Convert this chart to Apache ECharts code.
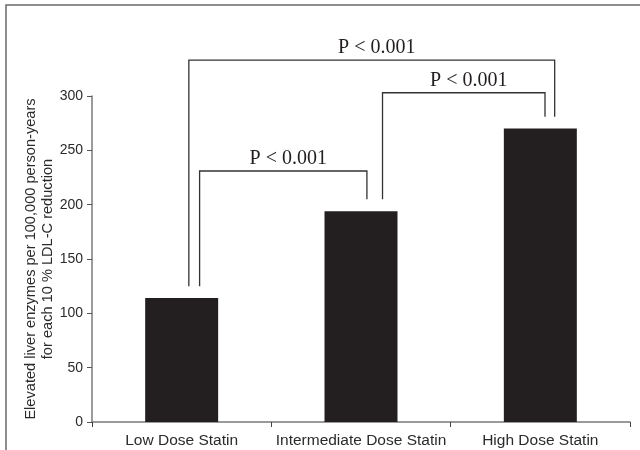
<!DOCTYPE html>
<html>
<head>
<meta charset="utf-8">
<script src="https://cdn.jsdelivr.net/npm/echarts@6/dist/echarts.min.js"></script>
<style>
html,body{margin:0;padding:0;background:#fff;}
#chart{width:640px;height:450px;}
</style>
</head>
<body>
<div id="chart"></div>
<script>
// ---- data ----
var categories = ['Low Dose Statin', 'Intermediate Dose Statin', 'High Dose Statin'];
var values = [114, 194, 270];
var yTicks = [0, 50, 100, 150, 200, 250, 300];
// significance brackets: from category, to category, bracket level (y units), label
var bracketFrom = [0, 1, 0];
var bracketTo = [2, 2, 1];
var bracketLevel = [333, 303, 231];
var bracketLabel = ['P < 0.001', 'P < 0.001', 'P < 0.001'];

// ---- layout of bracket legs (fraction of band width from category centre) ----
var legOffsetFrom = [0.04, 0.12, 0.10];
var legOffsetTo = [0.08, 0.026, 0.033];
var legGap = 11;

var bracketData = bracketFrom.map(function (f, i) {
  return [f, bracketTo[i], bracketLevel[i], values[f] + legGap, values[bracketTo[i]] + legGap, i];
});

var chart = echarts.init(document.getElementById('chart'), null, {renderer: 'canvas'});
var axisColor = '#7a7a7a';
var textColor = '#2b2b2b';

chart.setOption({
  animation: false,
  backgroundColor: '#fff',
  grid: {left: 92, right: 10, top: 96, bottom: 28, containLabel: false},
  graphic: [{
    type: 'rect',
    shape: {x: 6, y: 5, width: 700, height: 500},
    style: {fill: 'none', stroke: '#6a6a6a', lineWidth: 1.5},
    silent: true,
    z: 0
  }],
  xAxis: {
    type: 'category',
    data: categories,
    axisLine: {lineStyle: {color: axisColor, width: 1.5}},
    axisTick: {show: true, length: 5, lineStyle: {color: '#444'}, alignWithLabel: false},
    axisLabel: {interval: 0, color: textColor, fontFamily: 'Liberation Sans, Arial', fontSize: 15.5, margin: 11}
  },
  yAxis: {
    type: 'value',
    min: yTicks[0],
    max: yTicks[yTicks.length - 1],
    interval: yTicks[1] - yTicks[0],
    name: 'Elevated liver enzymes per 100,000 person-years\nfor each 10 % LDL-C reduction',
    nameLocation: 'middle',
    nameRotate: 90,
    nameGap: 36,
    nameMoveOverlap: false,
    nameTextStyle: {color: textColor, fontFamily: 'Liberation Sans, Arial', fontSize: 14.6, lineHeight: 17},
    axisLine: {show: true, lineStyle: {color: axisColor, width: 1.5}},
    axisTick: {show: true, length: 5, lineStyle: {color: '#555'}},
    splitLine: {show: false},
    axisLabel: {color: textColor, fontFamily: 'Liberation Sans, Arial', fontSize: 14, margin: 9}
  },
  series: [{
    type: 'bar',
    data: values,
    barWidth: '40.7%',
    itemStyle: {color: '#231f20'},
    z: 2
  }, {
    type: 'custom',
    data: bracketData,
    encode: {x: [0, 1], y: [2, 3, 4]},
    clip: false,
    z: 3,
    renderItem: function (params, api) {
      var f = api.value(0), t = api.value(1), lvl = api.value(2);
      var e1 = api.value(3), e2 = api.value(4), idx = api.value(5);
      var band = api.size([1, 0])[0];
      var pTopL = api.coord([f, lvl]);
      var pTopR = api.coord([t, lvl]);
      var pEndL = api.coord([f, e1]);
      var pEndR = api.coord([t, e2]);
      var xl = pTopL[0] + band * legOffsetFrom[idx];
      var xr = pTopR[0] + band * legOffsetTo[idx];
      var y = pTopL[1];
      return {
        type: 'group',
        children: [{
          type: 'polyline',
          shape: {points: [[xl, pEndL[1]], [xl, y], [xr, y], [xr, pEndR[1]]]},
          style: {stroke: '#333', lineWidth: 1.3, fill: null}
        }, {
          type: 'text',
          x: (xl + xr) / 2 + 5,
          y: y - 12,
          style: {
            text: bracketLabel[idx],
            fill: '#231f20',
            font: '20px "Liberation Serif", "Times New Roman", serif',
            align: 'center',
            verticalAlign: 'middle'
          }
        }]
      };
    }
  }]
});
</script>
</body>
</html>
